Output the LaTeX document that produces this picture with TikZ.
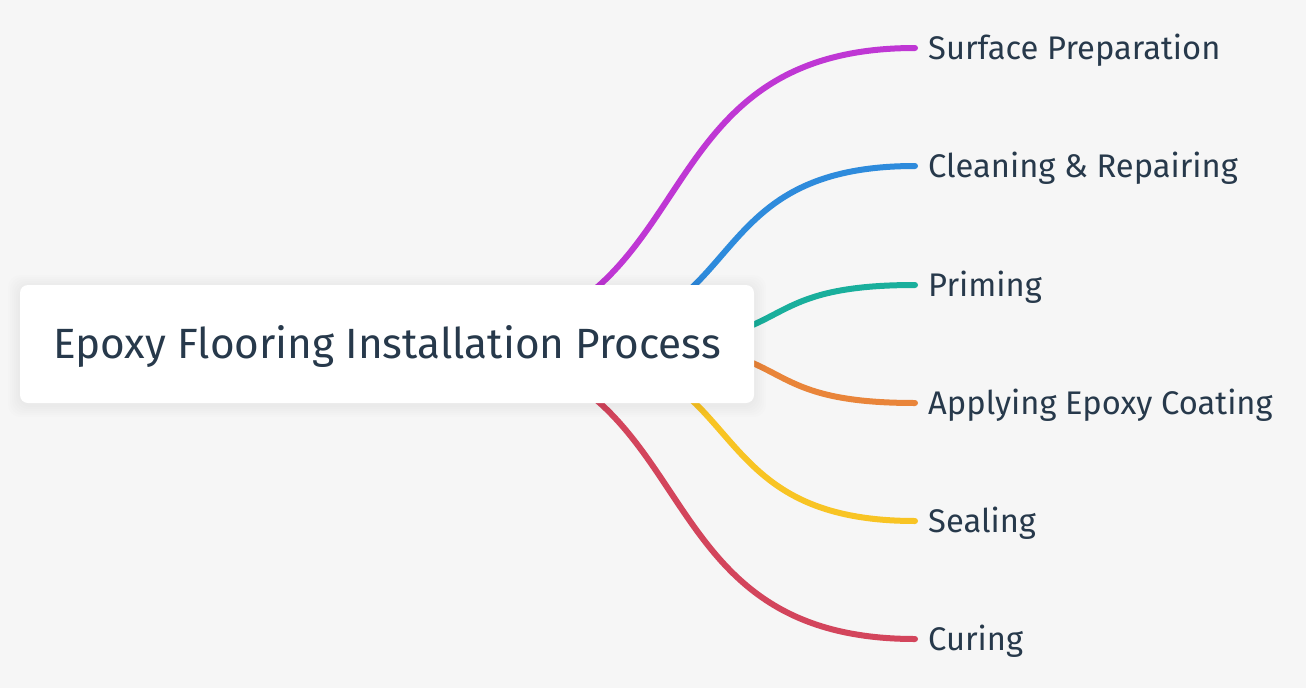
\documentclass[tikz,border=0pt]{standalone}
\usepackage{fontspec}
\setmainfont{Fira Sans}
\definecolor{bg}{HTML}{F6F6F6}
\definecolor{ink}{HTML}{27394B}
\definecolor{cpurple}{HTML}{BF37D4}
\definecolor{cblue}{HTML}{2E8BDC}
\definecolor{cteal}{HTML}{19AF9C}
\definecolor{corange}{HTML}{E9853A}
\definecolor{cyellow}{HTML}{F8C424}
\definecolor{cred}{HTML}{D3455C}
\tikzset{
  branch/.style={line width=6pt, line cap=round},
  leaf/.style={anchor=west, inner xsep=13pt, inner ysep=0pt, text=ink,
    text height=22.5pt, text depth=0pt,
    font=\fontsize{32.7}{40}\selectfont},
  rootbox/.style={fill=white, rounded corners=8pt, minimum width=734pt,
    minimum height=118pt, text=ink, text height=29.1pt, text depth=0pt,
    font=\fontsize{42.3}{50}\selectfont},
  shadowlayer/.style={fill=black, opacity=0.007, rounded corners=12pt}
}
\begin{document}
\begin{tikzpicture}[x=1pt,y=-1pt]
\fill[bg] (0,0) rectangle (1306,688);
\useasboundingbox (0,0) rectangle (1306,688);
% start points (hidden behind the root box)
\coordinate (s1) at (425,344);
\coordinate (s2) at (529,344);
\coordinate (s3) at (633,344);
\coordinate (s4) at (633,344);
\coordinate (s5) at (529,344);
\coordinate (s6) at (425,344);
% leaves
\node[leaf] (c1) at (915,48) {Surface Preparation};
\node[leaf] (c2) at (915,166) {Cleaning \& Repairing};
\node[leaf] (c3) at (915,285) {Priming};
\node[leaf] (c4) at (915,403) {Applying Epoxy Coating};
\node[leaf] (c5) at (915,521) {Sealing};
\node[leaf] (c6) at (915,639) {Curing};
% branches
\draw[branch, cpurple] (s1) .. controls +(294,0) and +(-294,0) .. (c1.west);
\draw[branch, cblue]   (s2) .. controls +(232,0) and +(-232,0) .. (c2.west);
\draw[branch, cteal]   (s3) .. controls +(169,0) and +(-169,0) .. (c3.west);
\draw[branch, corange] (s4) .. controls +(169,0) and +(-169,0) .. (c4.west);
\draw[branch, cyellow] (s5) .. controls +(232,0) and +(-232,0) .. (c5.west);
\draw[branch, cred]    (s6) .. controls +(294,0) and +(-294,0) .. (c6.west);
% soft shadow
\foreach \d in {2,4,6,8,10,12}{
  \fill[shadowlayer] (20-\d,285-\d+2) rectangle (754+\d,403+\d+2);
}
% root
\node[rootbox] (root) at (387,344) {Epoxy Flooring Installation Process};
\end{tikzpicture}
\end{document}
